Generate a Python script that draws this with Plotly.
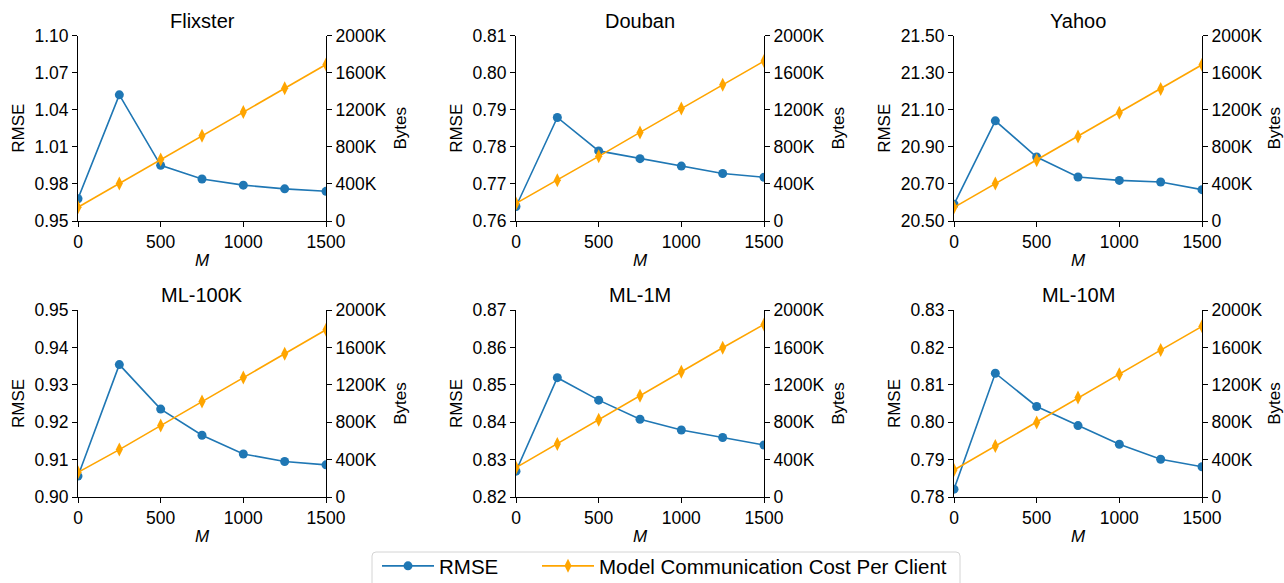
import plotly.graph_objects as go
from plotly.subplots import make_subplots

M = [0, 250, 500, 750, 1000, 1250, 1500]

datasets = ["Flixster", "Douban", "Yahoo", "ML-100K", "ML-1M", "ML-10M"]

rmse_flixster = [0.968, 1.052, 0.995, 0.984, 0.979, 0.976, 0.974]
rmse_douban = [0.7639, 0.7879, 0.7789, 0.7768, 0.7748, 0.7728, 0.7718]
rmse_yahoo = [20.590, 21.040, 20.845, 20.737, 20.719, 20.710, 20.669]
rmse_ml100k = [0.9056, 0.9354, 0.9235, 0.9165, 0.9115, 0.9095, 0.9086]
rmse_ml1m = [0.8269, 0.8519, 0.8459, 0.8408, 0.8379, 0.8359, 0.8339]
rmse_ml10m = [0.7821, 0.8131, 0.8042, 0.7991, 0.7941, 0.7901, 0.7881]

bytes_flixster = [148000, 405000, 662000, 918000, 1174000, 1431000, 1687000]
bytes_douban = [190000, 440000, 697000, 955000, 1213000, 1469000, 1724000]
bytes_yahoo = [147000, 403000, 656000, 912000, 1168000, 1423000, 1684000]
bytes_ml100k = [264000, 507000, 764000, 1021000, 1279000, 1533000, 1789000]
bytes_ml1m = [314000, 568000, 825000, 1082000, 1339000, 1596000, 1846000]
bytes_ml10m = [289000, 546000, 798000, 1064000, 1314000, 1571000, 1825000]

rmse_ranges = [[0.95, 1.10], [0.76, 0.81], [20.50, 21.50], [0.90, 0.95], [0.82, 0.87], [0.78, 0.83]]
rmse_dticks = [0.03, 0.01, 0.2, 0.01, 0.01, 0.01]

bytes_tickvals = [0, 400000, 800000, 1200000, 1600000, 2000000]
bytes_ticktext = ["0", "400K", "800K", "1200K", "1600K", "2000K"]
x_tickvals = [0, 500, 1000, 1500]

rmse_all = [rmse_flixster, rmse_douban, rmse_yahoo, rmse_ml100k, rmse_ml1m, rmse_ml10m]
bytes_all = [bytes_flixster, bytes_douban, bytes_yahoo, bytes_ml100k, bytes_ml1m, bytes_ml10m]

W, H = 1284, 583
BLUE = "#1f77b4"
ORANGE = "#FFA500"
FONT = "Liberation Sans, Arial, Helvetica, sans-serif"
TICK_FS = 17.5
LAB_FS = 17

fig = make_subplots(rows=2, cols=3, specs=[[{"secondary_y": True}] * 3] * 2)

xdom = [[78 / W, 326 / W], [516 / W, 764 / W], [954 / W, 1202 / W]]
ydom = [[1 - 221 / H, 1 - 35.5 / H], [1 - 497 / H, 1 - 310 / H]]

axis_common = dict(showline=True, linecolor="black", linewidth=1, ticks="outside",
                   ticklen=5, tickwidth=1, tickcolor="black", showgrid=False,
                   zeroline=False, automargin=False,
                   tickfont=dict(size=TICK_FS, color="black", family=FONT))
title_font = dict(size=LAB_FS, family=FONT, color="black")

for i, name in enumerate(datasets):
    r, c = i // 3 + 1, i % 3 + 1
    fig.add_trace(go.Scatter(x=M, y=rmse_all[i], mode="lines+markers", name="RMSE",
                             line=dict(color=BLUE, width=1.6),
                             marker=dict(symbol="circle", size=9, color=BLUE),
                             showlegend=(i == 0), legend="legend"),
                  row=r, col=c, secondary_y=False)
    fig.add_trace(go.Scatter(x=M, y=bytes_all[i], mode="lines+markers",
                             name="Model Communication Cost Per Client",
                             line=dict(color=ORANGE, width=1.6),
                             marker=dict(symbol="diamond-tall", size=10, color=ORANGE),
                             showlegend=(i == 0), legend="legend2"),
                  row=r, col=c, secondary_y=True)
    fig.update_xaxes(domain=xdom[c - 1], range=[0, 1500], tickvals=x_tickvals,
                     title=dict(text="<i>M</i>", font=title_font, standoff=3),
                     row=r, col=c, **axis_common)
    lo, hi = rmse_ranges[i]
    fig.update_yaxes(domain=ydom[r - 1], range=[lo, hi], tick0=lo, dtick=rmse_dticks[i],
                     tickformat=".2f",
                     title=dict(text="RMSE", font=title_font, standoff=5),
                     row=r, col=c, secondary_y=False, **axis_common)
    fig.update_yaxes(range=[0, 2000000], tickvals=bytes_tickvals, ticktext=bytes_ticktext,
                     title=dict(text="Bytes", font=title_font, standoff=8),
                     row=r, col=c, secondary_y=True, **axis_common)
    fig.add_annotation(text=name, x=(xdom[c - 1][0] + xdom[c - 1][1]) / 2, y=ydom[r - 1][1] + 2 / H,
                       xref="paper", yref="paper", xanchor="center", yanchor="bottom",
                       showarrow=False, font=dict(size=20, family=FONT, color="black"))

# legend frame (rounded rectangle)
x0, x1, y0, y1, rr = 372 / W, 960 / W, 1 - 552 / H, 1 - 600 / H, 4
fig.add_shape(type="path", xref="paper", yref="paper",
              path=(f"M {x0} {y1} L {x0} {y0 - rr / H} Q {x0} {y0} {x0 + rr / W} {y0} "
                    f"L {x1 - rr / W} {y0} Q {x1} {y0} {x1} {y0 - rr / H} L {x1} {y1} Z"),
              line=dict(color="#d4d4d4", width=1), fillcolor="rgba(255,255,255,0.8)", layer="above")

leg_common = dict(orientation="h", yanchor="top", xanchor="left", borderwidth=0,
                  bgcolor="rgba(0,0,0,0)", font=dict(size=20.5, family=FONT, color="black"),
                  itemwidth=52)

fig.update_layout(
    width=W, height=H,
    margin=dict(l=0, r=0, t=0, b=0, autoexpand=False),
    plot_bgcolor="white", paper_bgcolor="white",
    font=dict(family=FONT, color="black", size=17),
    legend=dict(x=377 / W, y=1 - 546 / H, **leg_common),
    legend2=dict(x=537 / W, y=1 - 546 / H, **leg_common),
)

fig.write_html("out.html", config={"displayModeBar": False},
               post_script="document.body.style.margin='0';document.body.style.overflow='hidden';")
